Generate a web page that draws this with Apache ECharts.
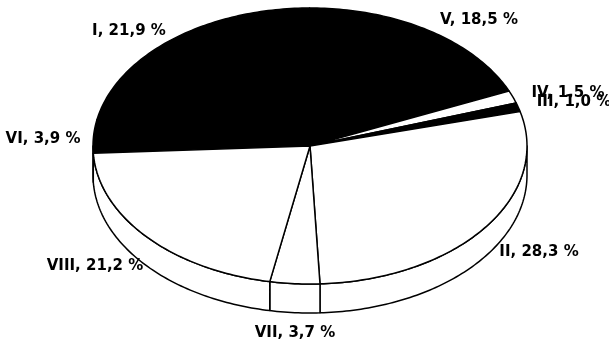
<!DOCTYPE html>
<html><head><meta charset="utf-8">
<script src="https://cdn.jsdelivr.net/npm/echarts@6/dist/echarts.min.js"></script>
<style>html,body{margin:0;padding:0;background:#fff}#c{width:609px;height:346px}</style>
</head><body><div id="c"></div>
<script>
// Slices in drawing order (clockwise from the left edge of the disc)
const categories = ['VI', 'I', 'V', 'IV', 'III', 'II', 'VII', 'VIII'];
const shares = [3.9, 21.9, 18.5, 1.5, 1.0, 28.3, 3.7, 21.2];
const fills = ['#000', '#000', '#000', '#fff', '#000', '#fff', '#fff', '#fff'];
// caption centres, one per slice
const labelAt = [[43, 139], [129, 31], [479, 20], [568, 93], [574, 102], [539, 252], [295, 333], [95, 266]];

// tilted disc geometry
const CX = 310, CY = 146, RX = 217, RY = 138, DEPTH = 29, START = 183;

const total = shares.reduce((s, v) => s + v, 0);
const D2R = Math.PI / 180;

function pt(deg, dy) {
  return [CX + RX * Math.cos(deg * D2R), CY - RY * Math.sin(deg * D2R) + (dy || 0)];
}
function arc(from, to, dy) {
  const pts = [];
  const n = Math.max(2, Math.ceil(Math.abs(from - to)));
  for (let k = 0; k <= n; k++) pts.push(pt(from + (to - from) * k / n, dy));
  return pts;
}

function renderItem(params, api) {
  const i = params.dataIndex;
  let before = 0;
  for (let k = 0; k < i; k++) before += shares[k];
  const s = START - before / total * 360;
  const e = s - api.value(0) / total * 360;
  const fill = fills[i];
  const children = [];
  // visible front wall: lower half of the rim
  [[-180, 0], [180, 360]].forEach(([L, H]) => {
    const lo = Math.max(e, L), hi = Math.min(s, H);
    if (hi > lo) {
      const pts = arc(hi, lo, 0).concat(arc(lo, hi, DEPTH));
      children.push({
        type: 'polygon', z2: 1,
        shape: { points: pts },
        style: { fill: fill, stroke: '#000', lineWidth: 1.5, lineJoin: 'round' }
      });
    }
  });
  // top face
  children.push({
    type: 'polygon', z2: 2,
    shape: { points: [[CX, CY]].concat(arc(s, e, 0)) },
    style: { fill: fill, stroke: '#000', lineWidth: 1.5, lineJoin: 'round' }
  });
  return { type: 'group', children: children };
}

const chart = echarts.init(document.getElementById('c'), null, { renderer: 'canvas' });
chart.setOption({
  backgroundColor: '#fff',
  animation: false,
  series: [{
    type: 'custom',
    coordinateSystem: 'none',
    renderItem: renderItem,
    data: shares.map(v => [v])
  }],
  graphic: categories.map((c, i) => ({
    type: 'text',
    x: labelAt[i][0], y: labelAt[i][1], z: 10,
    style: {
      text: c + ', ' + shares[i].toFixed(1).replace('.', ',') + ' %',
      font: 'bold 15px "DejaVu Sans"',
      fill: '#000',
      align: 'center',
      verticalAlign: 'middle'
    }
  }))
});
</script>
</body></html>
